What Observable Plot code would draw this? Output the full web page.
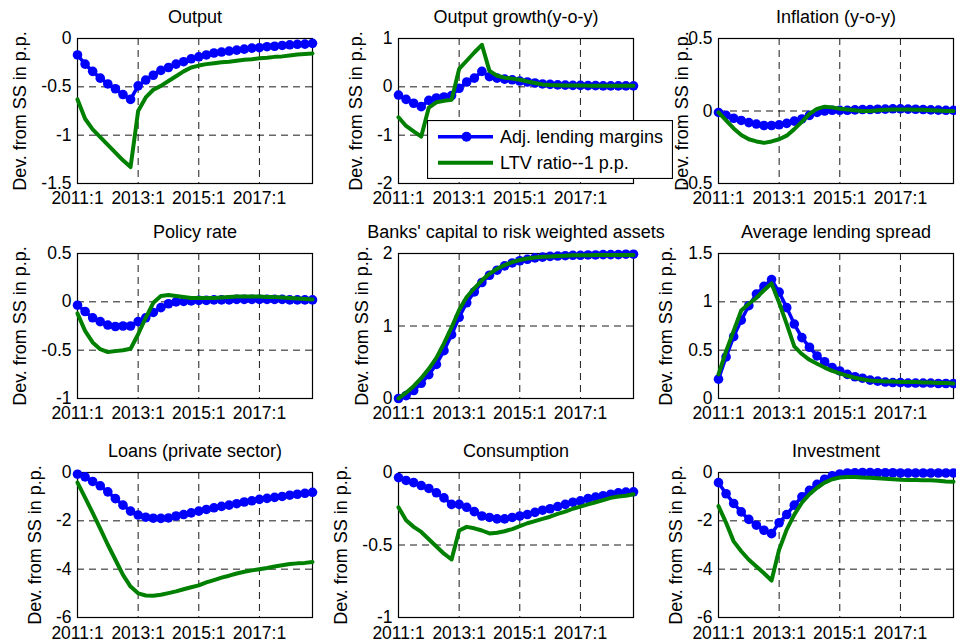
<!DOCTYPE html>
<html><head><meta charset="utf-8">
<script src="https://cdn.jsdelivr.net/npm/d3@7"></script>
<script src="https://cdn.jsdelivr.net/npm/@observablehq/plot@0.6"></script>
<style>
html,body{margin:0;padding:0;background:#fff;}
#root{position:relative;width:956px;height:641px;overflow:hidden;font-family:"Liberation Sans",Arial,Helvetica,sans-serif;}
.panel{position:absolute;}
</style></head><body><div id="root"></div>
<script>
// ---------- data ----------
const quarters = ["2011:1","2011:2","2011:3","2011:4","2012:1","2012:2","2012:3","2012:4",
  "2013:1","2013:2","2013:3","2013:4","2014:1","2014:2","2014:3","2014:4",
  "2015:1","2015:2","2015:3","2015:4","2016:1","2016:2","2016:3","2016:4",
  "2017:1","2017:2","2017:3","2017:4","2018:1","2018:2","2018:3","2018:4"];
const xTickLabels = ["2011:1","2013:1","2015:1","2017:1"];
const seriesNames = ["Adj. lending margins","LTV ratio--1 p.p."];
const yLabel = "Dev. from SS in p.p.";
const titles = ["Output","Output growth(y-o-y)","Inflation (y-o-y)","Policy rate",
  "Banks' capital to risk weighted assets","Average lending spread",
  "Loans (private sector)","Consumption","Investment"];
const yDomains = [[-1.5,0],[-2,1],[-0.5,0.5],[-1,0.5],[0,2],[0,1.5],[-6,0],[-1,0],[-6,0]];
const yTicks = [[-1.5,-1,-0.5,0],[-2,-1,0,1],[-0.5,0,0.5],[-1,-0.5,0,0.5],[0,1,2],
  [0,0.5,1,1.5],[-6,-4,-2,0],[-1,-0.5,0],[-6,-4,-2,0]];

const outputAdj = [-0.17,-0.265,-0.34,-0.41,-0.47,-0.52,-0.58,-0.63,-0.49,-0.43,-0.38,-0.33,-0.30,-0.265,-0.24,-0.21,-0.19,-0.17,-0.15,-0.14,-0.13,-0.12,-0.11,-0.10,-0.095,-0.085,-0.08,-0.072,-0.065,-0.06,-0.058,-0.05];
const outputLTV = [-0.63,-0.83,-0.94,-1.02,-1.10,-1.18,-1.26,-1.33,-0.75,-0.61,-0.53,-0.49,-0.44,-0.39,-0.34,-0.30,-0.28,-0.265,-0.255,-0.245,-0.24,-0.23,-0.22,-0.215,-0.205,-0.20,-0.19,-0.185,-0.175,-0.165,-0.16,-0.155];
const growthAdj = [-0.17,-0.26,-0.34,-0.41,-0.28,-0.23,-0.21,-0.18,-0.03,0.10,0.18,0.32,0.21,0.18,0.16,0.145,0.12,0.10,0.08,0.06,0.05,0.04,0.035,0.03,0.03,0.025,0.025,0.02,0.02,0.02,0.02,0.02];
const growthLTV = [-0.63,-0.81,-0.92,-1.03,-0.43,-0.32,-0.29,-0.27,0.37,0.54,0.71,0.87,0.33,0.23,0.19,0.17,0.145,0.11,0.08,0.05,0.04,0.035,0.03,0.03,0.03,0.025,0.025,0.02,0.02,0.02,0.02,0.02];
const inflAdj = [-0.01,-0.03,-0.05,-0.065,-0.08,-0.09,-0.10,-0.10,-0.095,-0.085,-0.07,-0.055,-0.03,-0.01,0.0,0.005,0.005,0.005,0.008,0.01,0.01,0.012,0.013,0.015,0.015,0.013,0.012,0.01,0.008,0.006,0.005,0.005];
const inflLTV = [-0.01,-0.065,-0.12,-0.165,-0.195,-0.21,-0.22,-0.21,-0.195,-0.17,-0.125,-0.075,-0.02,0.015,0.03,0.025,0.015,0.01,0.005,0.0,0.0,0.005,0.008,0.01,0.01,0.01,0.008,0.008,0.005,0.003,0.0,0.0];
const policyAdj = [-0.035,-0.10,-0.165,-0.205,-0.24,-0.255,-0.25,-0.25,-0.205,-0.165,-0.11,-0.06,-0.02,0.0,0.005,0.01,0.015,0.015,0.02,0.02,0.02,0.025,0.025,0.025,0.025,0.025,0.025,0.025,0.02,0.02,0.02,0.02];
const policyLTV = [-0.12,-0.30,-0.42,-0.49,-0.52,-0.51,-0.50,-0.485,-0.335,-0.165,-0.01,0.06,0.07,0.06,0.05,0.04,0.04,0.04,0.04,0.045,0.05,0.055,0.055,0.055,0.055,0.05,0.05,0.045,0.04,0.035,0.03,0.025];
const capitalAdj = [0.0,0.04,0.11,0.21,0.33,0.47,0.66,0.88,1.12,1.32,1.47,1.60,1.70,1.77,1.83,1.87,1.90,1.92,1.94,1.95,1.96,1.965,1.97,1.975,1.975,1.98,1.98,1.985,1.985,1.985,1.99,1.99];
const capitalLTV = [0.0,0.08,0.17,0.28,0.41,0.56,0.76,0.98,1.22,1.40,1.52,1.63,1.72,1.79,1.84,1.88,1.91,1.93,1.945,1.955,1.96,1.965,1.97,1.975,1.975,1.975,1.98,1.98,1.98,1.98,1.98,1.98];
const spreadAdj = [0.20,0.43,0.64,0.81,0.96,1.08,1.16,1.23,1.10,0.94,0.77,0.63,0.53,0.44,0.38,0.32,0.285,0.25,0.225,0.21,0.19,0.18,0.17,0.165,0.165,0.16,0.16,0.16,0.16,0.155,0.155,0.155];
const spreadLTV = [0.25,0.49,0.70,0.91,0.98,1.04,1.12,1.19,0.99,0.77,0.54,0.46,0.40,0.36,0.32,0.285,0.26,0.235,0.215,0.20,0.185,0.18,0.175,0.175,0.17,0.17,0.17,0.165,0.165,0.16,0.16,0.155];
const loansAdj = [-0.07,-0.18,-0.37,-0.55,-0.80,-1.08,-1.35,-1.60,-1.76,-1.85,-1.89,-1.90,-1.88,-1.80,-1.74,-1.67,-1.60,-1.53,-1.46,-1.40,-1.35,-1.29,-1.22,-1.17,-1.11,-1.07,-1.03,-0.99,-0.94,-0.90,-0.86,-0.82];
const loansLTV = [-0.42,-1.04,-1.67,-2.32,-2.99,-3.61,-4.24,-4.72,-5.00,-5.09,-5.10,-5.06,-4.99,-4.92,-4.83,-4.75,-4.67,-4.55,-4.45,-4.35,-4.27,-4.18,-4.11,-4.05,-4.00,-3.95,-3.89,-3.84,-3.79,-3.76,-3.74,-3.70];
const consAdj = [-0.035,-0.055,-0.07,-0.09,-0.11,-0.14,-0.175,-0.22,-0.22,-0.24,-0.27,-0.30,-0.31,-0.32,-0.32,-0.31,-0.30,-0.29,-0.275,-0.26,-0.25,-0.235,-0.22,-0.205,-0.195,-0.18,-0.17,-0.16,-0.15,-0.14,-0.135,-0.133];
const consLTV = [-0.24,-0.33,-0.375,-0.41,-0.46,-0.51,-0.56,-0.60,-0.40,-0.375,-0.385,-0.40,-0.42,-0.415,-0.405,-0.39,-0.37,-0.35,-0.335,-0.32,-0.305,-0.285,-0.27,-0.25,-0.235,-0.22,-0.205,-0.19,-0.175,-0.165,-0.16,-0.15];
const invAdj = [-0.42,-0.88,-1.28,-1.63,-1.94,-2.18,-2.39,-2.53,-2.08,-1.74,-1.35,-1.01,-0.74,-0.49,-0.28,-0.14,-0.06,-0.02,-0.01,0.0,0.0,-0.01,-0.01,-0.01,-0.02,-0.02,-0.02,-0.02,-0.02,-0.02,-0.02,-0.02];
const invLTV = [-1.39,-2.08,-2.85,-3.26,-3.61,-3.89,-4.17,-4.47,-3.19,-2.36,-1.74,-1.25,-0.90,-0.63,-0.42,-0.28,-0.21,-0.19,-0.19,-0.21,-0.22,-0.24,-0.26,-0.28,-0.30,-0.31,-0.31,-0.32,-0.32,-0.34,-0.37,-0.38];

const adjSeries = [outputAdj,growthAdj,inflAdj,policyAdj,capitalAdj,spreadAdj,loansAdj,consAdj,invAdj];
const ltvSeries = [outputLTV,growthLTV,inflLTV,policyLTV,capitalLTV,spreadLTV,loansLTV,consLTV,invLTV];

// ---------- layout (positions / styles) ----------
const colLeft = [0, 320.7, 640.7];
const rowTop = [0, 215.3, 434];
const yLabelOffset = [57, 42.7, 36.7, 57, 36.7, 51.9, 42, 57.7, 42.7];
const BLUE = "#0000ff", GREEN = "#008000";
const FONT = "'Liberation Sans', Arial, Helvetica, sans-serif";

const root = document.getElementById("root");
const xTickIdx = xTickLabels.map(l => quarters.indexOf(l));

for (let k = 0; k < 9; k++) {
  const row = Math.floor(k / 3), col = k % 3;
  const adj = adjSeries[k].map((v, i) => ({i, v}));
  const ltv = ltvSeries[k].map((v, i) => ({i, v}));
  const last = row === 2;
  const chart = Plot.plot({
    width: 318,
    height: last ? 207 : 215,
    marginLeft: 77, marginRight: 6, marginTop: 38, marginBottom: last ? 24 : 32,
    style: {background: "transparent", overflow: "visible", fontFamily: FONT, fontSize: "17.5px", color: "black"},
    x: {domain: [0, quarters.length - 1], ticks: xTickIdx, tickFormat: i => quarters[i], tickSize: 0, tickPadding: last ? 9 : 8, label: null},
    y: {domain: yDomains[k], ticks: yTicks[k], tickFormat: d => String(d), tickSize: 0, tickPadding: 6, label: null},
    marks: [
      Plot.ruleX(xTickIdx.slice(1), {stroke: "black", strokeWidth: 0.9, strokeDasharray: "7,5"}),
      Plot.ruleY(yTicks[k].filter(t => t !== yDomains[k][0] && t !== yDomains[k][1]), {stroke: "black", strokeWidth: 0.9, strokeDasharray: "7,5"}),
      Plot.frame({stroke: "black", strokeWidth: 1.2}),
      Plot.line(adj, {x: "i", y: "v", stroke: BLUE, strokeWidth: 3.5}),
      Plot.dot(adj, {x: "i", y: "v", r: 4.8, fill: BLUE, stroke: "none"}),
      Plot.line(ltv, {x: "i", y: "v", stroke: GREEN, strokeWidth: 4}),
      Plot.text([titles[k]], {frameAnchor: "top", textAnchor: "middle", lineAnchor: "middle", dy: -21, text: d => d, fontSize: 18, fill: "black"}),
      Plot.text([yLabel], {frameAnchor: "left", textAnchor: "middle", lineAnchor: "middle", rotate: -90, dx: -yLabelOffset[k], text: d => d, fontSize: 18, fill: "black"})
    ]
  });
  const wrap = document.createElement("div");
  wrap.className = "panel";
  wrap.style.left = colLeft[col] + "px";
  wrap.style.top = rowTop[row] + "px";
  wrap.style.width = "318px";
  wrap.appendChild(chart);
  root.appendChild(wrap);
}

// ---------- legend ----------
const ns = "http://www.w3.org/2000/svg";
const lg = document.createElementNS(ns, "svg");
lg.setAttribute("width", 246); lg.setAttribute("height", 59);
lg.style.position = "absolute"; lg.style.left = "427px"; lg.style.top = "120px";
const mk = (tag, attrs) => { const e = document.createElementNS(ns, tag); for (const a in attrs) e.setAttribute(a, attrs[a]); lg.appendChild(e); return e; };
mk("rect", {x: 0.5, y: 0.5, width: 245, height: 58, fill: "white", stroke: "black", "stroke-width": 1.2});
const legColors = [BLUE, GREEN];
seriesNames.forEach((name, j) => {
  const y = 16.7 + j * 26;
  mk("line", {x1: 11, x2: 66, y1: y, y2: y, stroke: legColors[j], "stroke-width": j ? 4 : 3.5});
  if (j === 0) mk("circle", {cx: 39.5, cy: y, r: 5, fill: BLUE});
  const t = mk("text", {x: 73, y: y, "dominant-baseline": "central", "font-size": 18, "font-family": FONT, fill: "black"});
  t.textContent = name;
});
root.appendChild(lg);
</script></body></html>
